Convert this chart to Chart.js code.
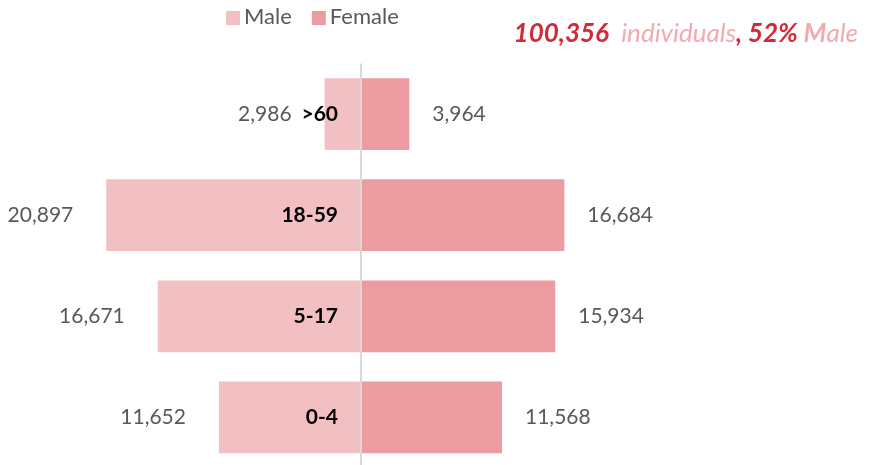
<!DOCTYPE html>
<html>
<head>
<meta charset="utf-8"/>
<style>
  html,body{margin:0;padding:0;background:#fff;overflow:hidden;}
  #wrap{width:876px;height:465px;position:relative;overflow:hidden;}
</style>
</head>
<body>
<div id="wrap"><canvas id="c" width="876" height="468"></canvas></div>
<script src="https://cdn.jsdelivr.net/npm/chart.js@4.4.0/dist/chart.umd.min.js"></script>
<script>
const ageGroups = [">60", "18-59", "5-17", "0-4"];
const maleVals   = [2986, 20897, 16671, 11652];
const femaleVals = [3964, 16684, 15934, 11568];
const seriesNames = ["Male", "Female"];

const MALE_C = "#F2BFC3";
const FEMALE_C = "#EC9CA1";
const DARK = "#D42A36";
const LIGHT = "#F4A9B1";
const FONT = "Lato, 'Open Sans', sans-serif";

const fmt = v => Math.abs(v).toLocaleString("en-US");

// labels, legend and heading
const textPlugin = {
  id: "texts",
  afterDatasetsDraw(chart) {
    const ctx = chart.ctx;
    const x = chart.scales.x, y = chart.scales.y;
    const zero = x.getPixelForValue(0);
    ctx.save();
    ageGroups.forEach((g, i) => {
      const cy = y.getPixelForValue(i);
      ctx.textBaseline = "middle";
      // age group inside male bar
      ctx.font = "bold 21px " + FONT;
      ctx.fillStyle = "#000";
      ctx.textAlign = "right";
      ctx.fillText(g, zero - 23, cy);
      // values
      ctx.font = "21px " + FONT;
      ctx.fillStyle = "#595959";
      ctx.textAlign = "right";
      ctx.fillText(fmt(maleVals[i]), x.getPixelForValue(-maleVals[i]) - 33, cy);
      ctx.textAlign = "left";
      ctx.fillText(fmt(femaleVals[i]), x.getPixelForValue(femaleVals[i]) + 23, cy);
    });

    // legend
    ctx.font = "22px " + FONT;
    ctx.textAlign = "left";
    ctx.textBaseline = "middle";
    let lx = 226;
    [[seriesNames[0], MALE_C], [seriesNames[1], FEMALE_C]].forEach(([n, c]) => {
      ctx.fillStyle = c;
      ctx.fillRect(lx, 11, 14, 14);
      ctx.fillStyle = "#595959";
      ctx.fillText(n, lx + 18, 17);
      lx += 18 + ctx.measureText(n).width + 20;
    });

    // heading, right aligned
    const maleSum = maleVals.reduce((a, b) => a + b, 0);
    const total = maleSum + femaleVals.reduce((a, b) => a + b, 0);
    const pct = Math.round(100 * maleSum / total);
    const parts = [
      [total.toLocaleString("en-US"), "italic bold", DARK],
      ["  individuals", "italic", LIGHT],
      [", " + pct + "%", "italic bold", DARK],
      [" M", "italic bold", LIGHT],
      ["ale", "italic", LIGHT]
    ];
    let w = 0;
    parts.forEach(p => { ctx.font = p[1] + " 26px " + FONT; w += ctx.measureText(p[0]).width; });
    let tx = 858 - w;
    parts.forEach(p => {
      ctx.font = p[1] + " 26px " + FONT;
      ctx.fillStyle = p[2];
      ctx.fillText(p[0], tx, 34);
      tx += ctx.measureText(p[0]).width;
    });
    ctx.restore();
  }
};

new Chart(document.getElementById("c"), {
  type: "bar",
  data: {
    labels: ageGroups,
    datasets: [
      { label: seriesNames[0], data: maleVals.map(v => -v), backgroundColor: MALE_C,
        barPercentage: 0.71, categoryPercentage: 1 },
      { label: seriesNames[1], data: femaleVals, backgroundColor: FEMALE_C,
        barPercentage: 0.71, categoryPercentage: 1 }
    ]
  },
  options: {
    indexAxis: "y",
    responsive: false,
    animation: false,
    layout: { padding: { top: 63.5, bottom: 0, left: 0, right: 0 } },
    plugins: { legend: { display: false }, tooltip: { enabled: false } },
    scales: {
      x: {
        stacked: true, min: -29614, max: 42248,
        ticks: { display: false },
        border: { display: false },
        grid: { drawTicks: false, lineWidth: 2,
                color: c => c.tick && c.tick.value === 0 ? "#D9D9D9" : "transparent" }
      },
      y: { stacked: true, display: false }
    }
  },
  plugins: [textPlugin]
});
</script>
</body>
</html>
